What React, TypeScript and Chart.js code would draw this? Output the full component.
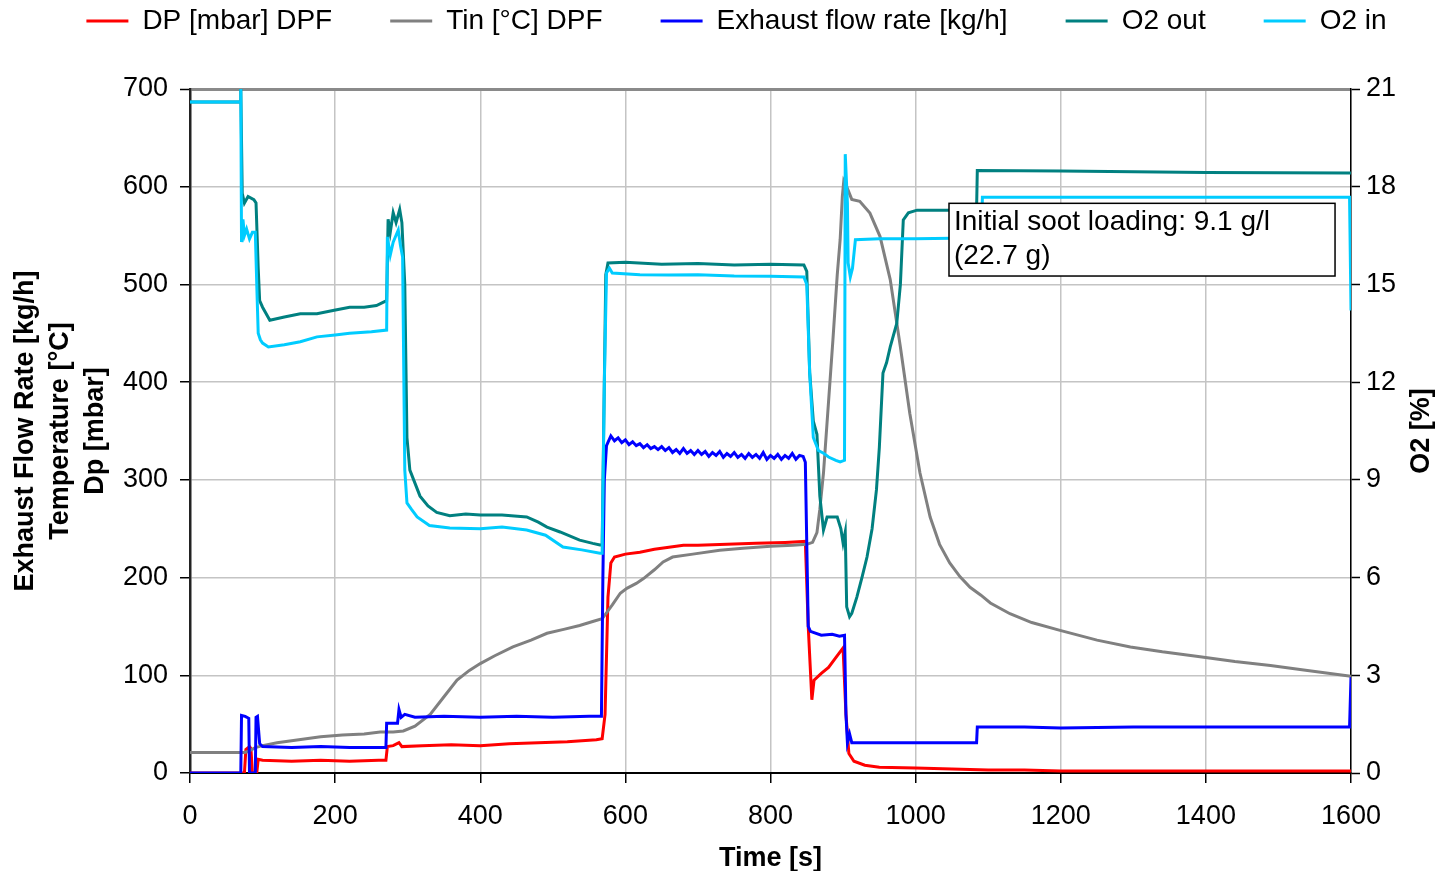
import React, { useEffect, useRef } from 'react';
import { Chart, registerables } from 'chart.js';

Chart.register(...registerables);

const FONT = '"Liberation Sans", Arial, Helvetica, sans-serif';

// ---- axis ranges / ticks ----
const timeTicks = { min: 0, max: 1600, step: 200 };
const leftTicks = { min: 0, max: 700, step: 100 };
const rightTicks = { min: 0, max: 21, step: 3 };

// ---- series labels ----
const seriesLabels = ['DP [mbar] DPF', 'Tin [°C] DPF', 'Exhaust flow rate [kg/h]', 'O2 out', 'O2 in'];
const seriesColors = ['#ff0000', '#808080', '#0000ff', '#008080', '#00ccff'];

// ---- DP [mbar] (time s, value) ----
const dpPoints: [number, number][] = [
  [0, 0], [75, 0], [77, 24], [82, 27], [84, 25], [86, 0], [92, 0], [94, 14], [100, 13], [140, 12],
  [180, 13], [220, 12], [260, 13], [270, 13], [272, 27], [280, 28], [288, 31], [292, 27], [320, 28],
  [360, 29], [400, 28], [440, 30], [480, 31], [520, 32], [560, 34], [568, 35], [572, 60], [576, 180],
  [580, 215], [585, 221], [600, 224], [620, 226], [640, 229], [660, 231], [680, 233], [700, 233],
  [740, 234], [780, 235], [820, 236], [848, 237], [852, 150], [857, 75], [860, 95], [870, 102],
  [880, 108], [890, 118], [898, 126], [900, 128], [904, 60], [908, 20], [915, 12], [930, 8], [950, 6],
  [1000, 5], [1050, 4], [1100, 3], [1150, 3], [1200, 2], [1300, 2], [1400, 2], [1500, 2], [1600, 2],
];

// ---- Tin [°C] ----
const tinPoints: [number, number][] = [
  [0, 21], [75, 21], [80, 22], [90, 26], [100, 28], [120, 31], [150, 34], [180, 37], [210, 39],
  [240, 40], [262, 42], [280, 42], [294, 43], [310, 48], [331, 60], [350, 78], [368, 95], [385, 105],
  [400, 112], [420, 120], [445, 129], [470, 136], [492, 143], [515, 147], [537, 151], [555, 155],
  [568, 158], [575, 165], [582, 172], [593, 184], [602, 189], [615, 194], [625, 199], [640, 208],
  [652, 216], [665, 221], [693, 224], [730, 228], [762, 230], [800, 232], [831, 233], [850, 234],
  [858, 236], [864, 246], [868, 270], [873, 307], [880, 380], [886, 443], [892, 510], [896, 546],
  [899, 590], [901, 606], [905, 600], [912, 587], [923, 585], [937, 573], [951, 549], [965, 505],
  [979, 436], [992, 368], [1006, 307], [1020, 262], [1033, 234], [1047, 215], [1061, 201], [1075, 190],
  [1090, 182], [1103, 174], [1130, 163], [1160, 154], [1199, 146], [1250, 136], [1296, 129],
  [1340, 124], [1392, 119], [1440, 114], [1489, 110], [1540, 105], [1600, 99],
];

// ---- Exhaust flow rate [kg/h] ----
const flowPoints: [number, number][] = [
  [0, 0], [70, 0], [71, 59], [76, 58], [81, 56], [82, 0], [90, 0], [91, 57], [93, 58], [96, 30],
  [100, 27], [140, 26], [180, 27], [220, 26], [260, 26], [270, 26], [271, 51], [286, 51], [288, 65],
  [291, 57], [296, 60], [310, 57], [350, 58], [400, 57], [450, 58], [500, 57], [550, 58], [567, 58],
  [569, 200], [571, 300], [574, 335], [580, 345], [585, 340], [590, 343], [595, 338], [600, 341],
  [605, 336], [610, 339], [615, 335], [620, 337], [625, 333], [630, 336], [635, 332], [640, 334],
  [645, 331], [650, 334], [655, 330], [660, 333], [665, 328], [670, 331], [675, 327], [680, 332],
  [685, 327], [690, 330], [695, 326], [700, 330], [705, 326], [710, 329], [715, 324], [720, 328],
  [725, 325], [730, 329], [735, 323], [740, 327], [745, 324], [750, 328], [755, 323], [760, 326],
  [765, 322], [770, 327], [775, 323], [780, 326], [785, 322], [790, 328], [795, 321], [800, 325],
  [805, 322], [810, 326], [815, 321], [820, 325], [825, 322], [830, 327], [835, 321], [840, 325],
  [845, 324], [848, 318], [852, 150], [855, 145], [870, 141], [885, 142], [895, 140], [902, 141],
  [904, 60], [906, 31], [909, 40], [912, 31], [950, 31], [1000, 31], [1050, 31], [1084, 31],
  [1085, 47], [1150, 47], [1200, 46], [1300, 47], [1400, 47], [1500, 47], [1598, 47], [1600, 98],
];

// ---- O2 out [%] ----
const o2OutPoints: [number, number][] = [
  [0, 20.6], [69, 20.6], [70, 21], [72, 17.8], [75, 17.5], [80, 17.7], [88, 17.6], [91, 17.5],
  [94, 15.5], [96, 14.5], [100, 14.3], [110, 13.9], [130, 14.0], [152, 14.1], [175, 14.1],
  [197, 14.2], [220, 14.3], [240, 14.3], [257, 14.35], [266, 14.45], [271, 14.5], [273, 17.0],
  [276, 16.6], [280, 17.2], [284, 16.9], [289, 17.3], [292, 16.9], [296, 15.0], [299, 10.3],
  [303, 9.3], [310, 8.9], [317, 8.5], [328, 8.2], [340, 8.0], [358, 7.9], [380, 7.95], [400, 7.92],
  [430, 7.92], [464, 7.86], [480, 7.7], [492, 7.55], [510, 7.4], [537, 7.15], [555, 7.05],
  [565, 7.0], [568, 7.0], [571, 12], [573, 15.3], [576, 15.66], [600, 15.68], [650, 15.62],
  [700, 15.64], [750, 15.6], [800, 15.62], [846, 15.6], [850, 15.4], [854, 12.3], [859, 10.8],
  [864, 10.4], [868, 8.5], [873, 7.46], [878, 7.86], [892, 7.86], [897, 7.5], [900, 7.06],
  [903, 7.4], [905, 5.1], [909, 4.8], [912, 4.9], [919, 5.4], [926, 6.0], [933, 6.63], [940, 7.5],
  [946, 8.69], [950, 10], [955, 12.28], [960, 12.6], [965, 13.08], [974, 13.8], [979, 15.0],
  [983, 16.98], [990, 17.2], [1002, 17.28], [1043, 17.28], [1084, 17.3], [1085, 18.5],
  [1200, 18.48], [1400, 18.44], [1598, 18.42], [1600, 18.42],
];

// ---- O2 in [%] ----
const o2InPoints: [number, number][] = [
  [0, 20.6], [69, 20.6], [70, 21], [71, 16.3], [73, 17.0], [75, 16.5], [78, 16.7], [82, 16.4],
  [86, 16.6], [90, 16.6], [92, 15], [94, 13.5], [97, 13.3], [100, 13.2], [108, 13.08], [130, 13.15],
  [152, 13.24], [175, 13.39], [200, 13.45], [220, 13.5], [250, 13.55], [271, 13.6], [272, 16.46],
  [276, 15.9], [280, 16.3], [287, 16.67], [290, 16.2], [293, 15.84], [296, 9.3], [299, 8.29],
  [305, 8.1], [313, 7.86], [330, 7.6], [358, 7.52], [400, 7.5], [430, 7.55], [464, 7.46],
  [490, 7.3], [514, 6.94], [540, 6.85], [565, 6.75], [568, 6.75], [571, 12], [574, 15.35],
  [578, 15.5], [582, 15.35], [620, 15.3], [660, 15.29], [700, 15.3], [750, 15.26], [800, 15.25],
  [846, 15.23], [850, 15.0], [854, 12.28], [859, 10.3], [866, 9.9], [873, 9.82], [880, 9.7],
  [890, 9.6], [896, 9.55], [902, 9.6], [903, 19.0], [906, 17.5], [907, 15.66], [910, 15.23],
  [913, 15.5], [917, 16.37], [950, 16.4], [1000, 16.4], [1050, 16.42], [1091, 16.45],
  [1092, 17.68], [1200, 17.68], [1400, 17.68], [1598, 17.68], [1600, 14.2],
];

// ---- annotation ----
const noteLines = ['Initial soot loading: 9.1 g/l', '(22.7 g)'];
const noteBox = { t0: 1046, t1: 1578, v0: 583, v1: 508.6 }; // time range, left-axis value range

const leftTitle = ['Exhaust Flow Rate [kg/h]', 'Temperature [°C]', 'Dp [mbar]'];
const rightTitle = 'O2 [%]';
const bottomTitle = 'Time [s]';

const toPoints = (pairs: [number, number][]) => pairs.map(([x, y]) => ({ x, y }));

export default function App() {
  const ref = useRef<HTMLCanvasElement>(null);

  useEffect(() => {
    if (!ref.current) return;

    const notePlugin = {
      id: 'sootNote',
      afterDatasetsDraw(chart: any) {
        const { ctx, scales } = chart;
        const x0 = scales.x.getPixelForValue(noteBox.t0);
        const x1 = scales.x.getPixelForValue(noteBox.t1);
        const y0 = scales.y.getPixelForValue(noteBox.v0);
        const y1 = scales.y.getPixelForValue(noteBox.v1);
        ctx.save();
        ctx.fillStyle = '#ffffff';
        ctx.fillRect(x0, y0, x1 - x0, y1 - y0);
        ctx.strokeStyle = '#000000';
        ctx.lineWidth = 1.5;
        ctx.strokeRect(x0, y0, x1 - x0, y1 - y0);
        ctx.fillStyle = '#000000';
        ctx.font = `28px ${FONT}`;
        ctx.textAlign = 'left';
        ctx.textBaseline = 'middle';
        noteLines.forEach((line, i) => {
          ctx.fillText(line, x0 + 5, y0 + 19 + i * 34);
        });
        ctx.restore();
      },
    };

    const rightTitlePlugin = {
      id: 'rightTitle',
      afterDraw(chart: any) {
        const { ctx, chartArea } = chart;
        ctx.save();
        ctx.translate(chart.width - 17, (chartArea.top + chartArea.bottom) / 2);
        ctx.rotate(-Math.PI / 2);
        ctx.font = `bold 27px ${FONT}`;
        ctx.fillStyle = '#000000';
        ctx.textAlign = 'center';
        ctx.textBaseline = 'middle';
        ctx.fillText(rightTitle, 0, 0);
        ctx.restore();
      },
    };

    const allPoints = [dpPoints, tinPoints, flowPoints, o2OutPoints, o2InPoints];
    const axisIds = ['y', 'y', 'y', 'y2', 'y2'];

    const datasets = seriesLabels.map((label, i) => ({
      label,
      data: toPoints(allPoints[i]),
      borderColor: seriesColors[i],
      backgroundColor: seriesColors[i],
      borderWidth: 3,
      pointRadius: 0,
      pointHoverRadius: 0,
      fill: false,
      tension: 0,
      yAxisID: axisIds[i],
      order: seriesLabels.length - i,
    }));

    const tickFont = { family: FONT, size: 27 };
    const titleFont = { family: FONT, size: 27, weight: 'bold' as const };
    const plainLabel = (v: any) => String(v);

    const chart = new Chart(ref.current, {
      type: 'line',
      data: { datasets },
      options: {
        animation: false,
        responsive: true,
        maintainAspectRatio: false,
        layout: { padding: { top: -51, right: -34, left: 0, bottom: 0 } },
        plugins: {
          legend: {
            position: 'top',
            labels: {
              font: { family: FONT, size: 28 },
              color: '#000',
              boxWidth: 42,
              boxHeight: 3,
              padding: 58,
              generateLabels: (c: any) =>
                c.data.datasets.map((ds: any, i: number) => ({
                  text: ds.label,
                  fillStyle: ds.borderColor,
                  strokeStyle: ds.borderColor,
                  lineWidth: 0,
                  hidden: false,
                  datasetIndex: i,
                  fontColor: '#000',
                })),
            },
          },
          title: {
            display: true,
            text: '',
            weight: 0,
            padding: { top: 34, bottom: 0 },
            font: { size: 10, lineHeight: 1 },
          },
          tooltip: { enabled: false },
        },
        scales: {
          x: {
            type: 'linear',
            min: timeTicks.min,
            max: timeTicks.max,
            ticks: { stepSize: timeTicks.step, font: tickFont, color: '#000', padding: 17, maxRotation: 0, callback: plainLabel },
            grid: { color: '#c4c4c4', lineWidth: 1.5, tickColor: '#000', tickLength: 10, tickWidth: 1.5 },
            border: { color: '#000', width: 2 },
            title: { display: true, text: bottomTitle, font: titleFont, color: '#000', padding: { top: 0, bottom: -4 } },
            afterFit: (s: any) => { s.height = 98; },
          },
          y: {
            type: 'linear',
            position: 'left',
            min: leftTicks.min,
            max: leftTicks.max,
            ticks: { stepSize: leftTicks.step, font: tickFont, color: '#000', padding: 12, callback: plainLabel },
            grid: {
              color: (c: any) => (c.tick && c.tick.value === leftTicks.max ? '#8a8a8a' : '#c4c4c4'),
              lineWidth: (c: any) => (c.tick && c.tick.value === leftTicks.max ? 3 : 1.5),
              tickColor: '#000',
              tickLength: 10,
              tickWidth: 1.5,
            },
            border: { color: '#222', width: 2.5 },
            title: {
              display: true,
              text: leftTitle,
              font: { family: FONT, size: 27, weight: 'bold', lineHeight: 1.3 },
              color: '#000',
              padding: { top: 8, bottom: 0 },
            },
            afterFit: (s: any) => { s.width = 190; },
          },
          y2: {
            type: 'linear',
            position: 'right',
            min: rightTicks.min,
            max: rightTicks.max,
            ticks: { stepSize: rightTicks.step, font: tickFont, color: '#000', padding: 6, callback: plainLabel },
            grid: { drawOnChartArea: false, tickColor: '#000', tickLength: 9, tickWidth: 1.5 },
            border: { color: '#000', width: 1.5 },
            afterFit: (s: any) => { s.width = 122; },
          },
        },
      },
      plugins: [notePlugin, rightTitlePlugin],
    } as any);

    return () => chart.destroy();
  }, []);

  return (
    <div style={{ position: 'fixed', left: 0, top: 0, width: '1439px', height: '871px' }}>
      <canvas ref={ref} />
    </div>
  );
}
